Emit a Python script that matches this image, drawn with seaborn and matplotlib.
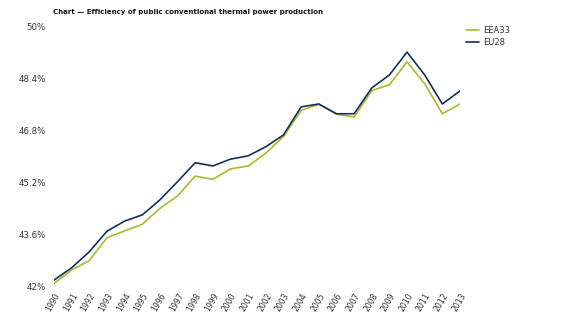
import matplotlib
matplotlib.use("Agg")
import matplotlib.pyplot as plt
from matplotlib.lines import Line2D
import seaborn as sns
import pandas as pd

years = list(range(1990, 2014))
eea33 = [42.11, 42.52, 42.81, 43.51, 43.72, 43.92, 44.41, 44.79, 45.40, 45.30,
         45.62, 45.71, 46.10, 46.61, 47.41, 47.60, 47.30, 47.21, 48.02, 48.20,
         48.90, 48.23, 47.31, 47.61]
eu28 = [42.21, 42.59, 43.08, 43.71, 44.02, 44.21, 44.67, 45.23, 45.81, 45.71,
        45.92, 46.02, 46.30, 46.66, 47.52, 47.61, 47.31, 47.31, 48.10, 48.50,
        49.20, 48.50, 47.61, 48.01]
series_names = ["EEA33", "EU28"]
y_ticks = [42, 43.6, 45.2, 46.8, 48.4, 50]
y_tick_labels = ["42%", "43.6%", "45.2%", "46.8%", "48.4%", "50%"]
title = "Chart \u2014 Efficiency of public conventional thermal power production"

df = pd.DataFrame({
    "year": years * 2,
    "efficiency": eea33 + eu28,
    "series": [series_names[0]] * len(years) + [series_names[1]] * len(years),
})

sns.set_theme(style="white")
plt.rcParams["font.family"] = ["DejaVu Sans"]

fig = plt.figure(figsize=(5.76, 3.27), dpi=100)
ax = fig.add_axes([54 / 576, 1 - 287 / 327, (460 - 54) / 576, (287 - 26) / 327])

palette = {"EEA33": "#a9bb2c", "EU28": "#12305c"}
sns.lineplot(data=df, x="year", y="efficiency", hue="series", palette=palette,
             linewidth=1.2, ax=ax, legend=False)

ax.set_xlim(1990, 2013)
ax.set_ylim(42, 50)
ax.set_xticks(years)
ax.set_xticklabels([str(y) for y in years], rotation=60, fontsize=5.6,
                   color="#333333", ha="right", rotation_mode="anchor")
ax.set_yticks(y_ticks)
ax.set_yticklabels(y_tick_labels, fontsize=6.2, color="#333333")
ax.tick_params(axis="y", length=0, pad=6)
ax.tick_params(axis="x", length=0, pad=3)
ax.set_xlabel("")
ax.set_ylabel("")
for s in ax.spines.values():
    s.set_visible(False)
ax.grid(False)

fig.text(53 / 576, 1 - 12 / 327, title, fontsize=5.0, fontweight="bold",
         color="#111111", va="center", ha="left")

handles = [Line2D([0], [0], color=palette[n], lw=1.2) for n in series_names]
fig.legend(handles, series_names, loc="upper left",
           bbox_to_anchor=(466 / 576, 1 - 26 / 327), frameon=False,
           fontsize=6, handlelength=1.5, handletextpad=0.6, labelspacing=0.4,
           borderaxespad=0, borderpad=0, labelcolor="#333333")

fig.savefig("out.png", dpi=100)
